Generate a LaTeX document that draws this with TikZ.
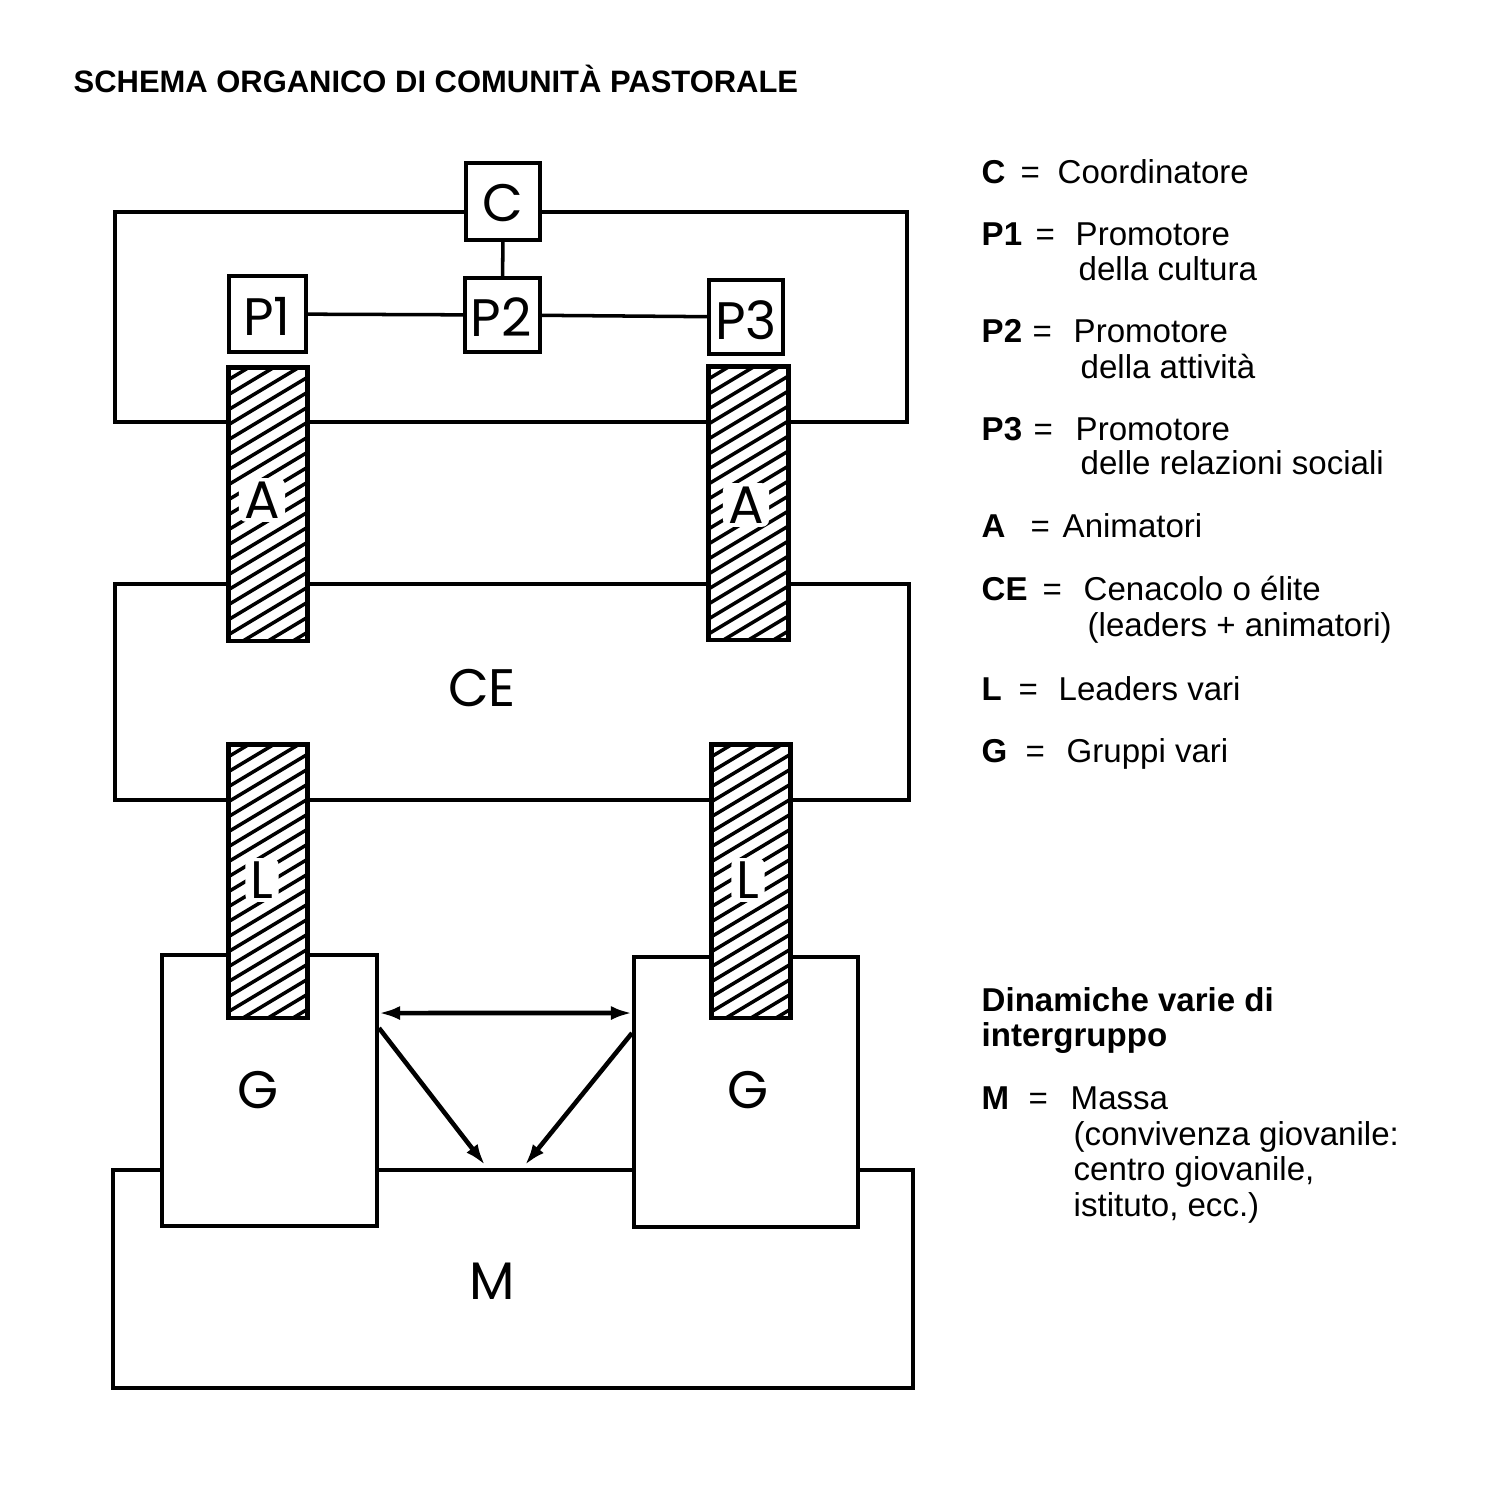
\documentclass[tikz,border=0pt]{standalone}
\usepackage{fontspec}
\setmainfont{Liberation Sans}
\newfontfamily\handfont{Poppins}
\usetikzlibrary{arrows.meta}
\newcommand\legline[6]{%
 \node[leg,font=\legfont\bfseries] (l#1) at (981,#2) {#3};
 \node[leg] (e#1) at (#4,#2) {=};
 \node[leg] (t#1) at (#5,#2) {#6};}
\newcommand\legfont{\fontsize{9.4pt}{11pt}\selectfont}
\newcommand\hatchnode[1]{%
 \begin{scope}
 \clip (#1.south west) rectangle (#1.north east);
 \foreach \k in {-22,...,5}{\draw[hatchline] (#1.south west) ++(-10,{\k*15}) -- ++(130,-78);}
 \end{scope}
 \draw[line width=1.3pt] (#1.south west) rectangle (#1.north east);}
\begin{document}
\begin{tikzpicture}[x=0.01cm,y=-0.01cm,
 frame/.style={draw,line width=1.1pt,inner sep=0pt},
 box/.style={frame,fill=white},
 hbar/.style={fill=white,inner sep=0pt,minimum width=0.78cm,minimum height=2.72cm},
 hatchline/.style={line width=1pt},
 letter/.style={font=\handfont\fontsize{15pt}{15pt}\selectfont,inner sep=0pt},
 barletter/.style={letter,fill=white,inner xsep=1.5pt,inner ysep=1pt,rounded corners=2pt},
 leg/.style={anchor=base west,inner sep=0pt,font=\legfont},
 conn/.style={line width=1pt},
 arr/.style={line width=1.3pt,-{Latex[length=0.21cm,width=0.14cm]}}]
\useasboundingbox (0,0) rectangle (1504,1512);
\fill[white] (0,0) rectangle (1504,1512);

% title
\node[anchor=base west,inner sep=0pt,font=\bfseries\fontsize{8.8pt}{10pt}\selectfont] (title) at (73,92) {SCHEMA ORGANICO DI COMUNITÀ PASTORALE};

% large frames
\node[frame,minimum width=7.92cm,minimum height=2.10cm] (top) at (511,317) {};
\node[frame,minimum width=7.94cm,minimum height=2.16cm] (ce) at (512,692) {};
\node[frame,minimum width=8.00cm,minimum height=2.18cm] (m) at (513,1279) {};

% groups
\node[box,minimum width=2.15cm,minimum height=2.71cm] (g1) at (269.5,1090.5) {};
\node[box,minimum width=2.24cm,minimum height=2.70cm] (g2) at (746,1092) {};

% hatched bars
\node[hbar] (a1) at (268,504) {};
\node[hbar] (a2) at (748.5,503) {};
\node[hbar] (l1) at (268,881) {};
\node[hbar] (l2) at (751,881) {};
\hatchnode{a1}
\hatchnode{a2}
\hatchnode{l1}
\hatchnode{l2}

% small boxes
\node[box,minimum width=0.74cm,minimum height=0.77cm] (c) at (503,201.5) {};
\node[box,minimum width=0.77cm,minimum height=0.76cm] (p1) at (267.5,314) {};
\node[box,minimum width=0.75cm,minimum height=0.74cm] (p2) at (502.5,315) {};
\node[box,minimum width=0.74cm,minimum height=0.74cm] (p3) at (746,317) {};

% connectors
\draw[conn] (c) -- (p2);
\draw[conn] (p1) -- (p2);
\draw[conn] (p2) -- (p3);

% letters
\node[letter] (tc) at (503,203) {C};
\node[letter] (tp1) at (267,316) {P1};
\node[letter] (tp2) at (501,317) {P2};
\node[letter] (tp3) at (746,320) {P3};
\node[letter] (tce) at (482,688) {CE};
\node[barletter] (ta1) at (262,500) {A};
\node[barletter] (ta2) at (746,505) {A};
\node[barletter] (tl1) at (262,880) {L};
\node[barletter] (tl2) at (748,880) {L};
\node[letter] (tg1) at (258,1090) {G};
\node[letter] (tg2) at (748,1090) {G};
\node[letter] (tm) at (492,1281) {M};

% arrows
\coordinate (ml) at (485,1165);
\coordinate (mr) at (525,1165);
\draw[line width=1.3pt,{Latex[length=0.21cm,width=0.14cm]}-{Latex[length=0.21cm,width=0.14cm]}] ([yshift=-0.6cm]g1.north east) -- ([yshift=-0.58cm]g2.north west);
\draw[arr] ([yshift=-0.75cm]g1.north east) -- (ml);
\draw[arr] ([yshift=-0.78cm]g2.north west) -- (mr);

% legend
\legline{C}{183}{C}{1020}{1057}{Coordinatore}
\legline{P1}{245}{P1}{1035}{1075}{Promotore}
\node[leg] (tP1b) at (1078,280) {della cultura};
\legline{P2}{342}{P2}{1032}{1073}{Promotore}
\node[leg] (tP2b) at (1080,378) {della attività};
\legline{P3}{440}{P3}{1033}{1075}{Promotore}
\node[leg] (tP3b) at (1080,474) {delle relazioni sociali};
\legline{A}{537}{A}{1030}{1062}{Animatori}
\legline{CE}{600}{CE}{1042}{1083}{Cenacolo o élite}
\node[leg] (tCEb) at (1087,636) {(leaders + animatori)};
\legline{L}{700}{L}{1018}{1058}{Leaders vari}
\legline{G}{762}{G}{1025}{1066}{Gruppi vari}
\node[leg,font=\legfont\bfseries] (dyn1) at (981,1011) {Dinamiche varie di};
\node[leg,font=\legfont\bfseries] (dyn2) at (981,1046) {intergruppo};
\legline{M}{1109}{M}{1028}{1070}{Massa}
\node[leg] (tMb) at (1073,1145) {(convivenza giovanile:};
\node[leg] (tMc) at (1073,1180) {centro giovanile,};
\node[leg] (tMd) at (1073,1216) {istituto, ecc.)};
\end{tikzpicture}
\end{document}
